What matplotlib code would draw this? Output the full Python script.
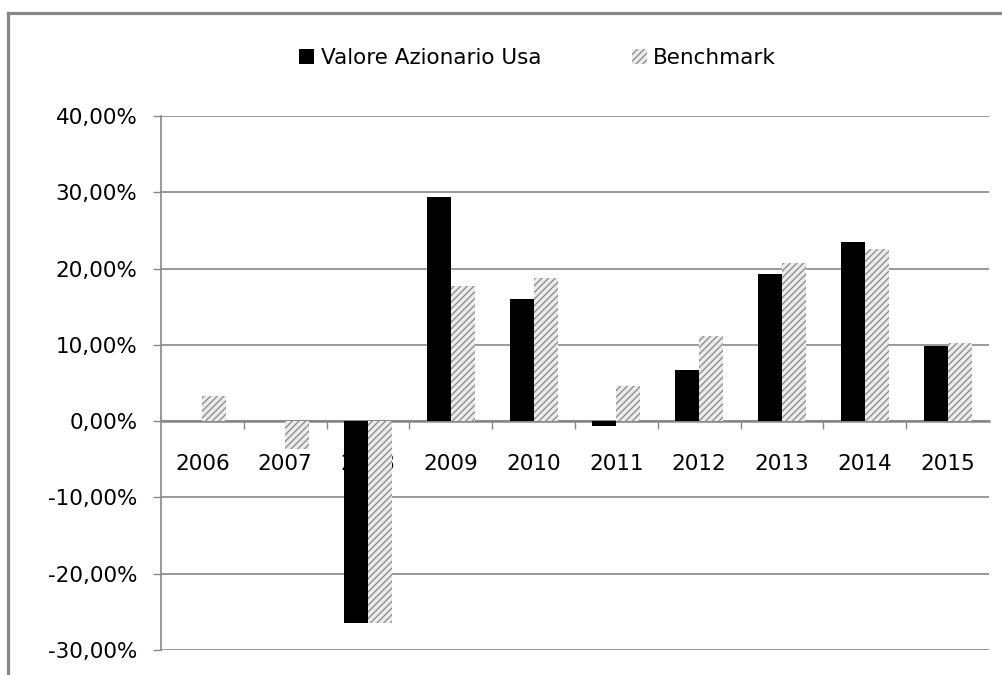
import matplotlib
matplotlib.use("Agg")
import matplotlib.pyplot as plt
from matplotlib.patches import Patch
from matplotlib.lines import Line2D
from matplotlib.ticker import FuncFormatter, FixedLocator
import numpy as np

plt.rcParams['font.family'] = ['DejaVu Sans']
plt.rcParams['hatch.linewidth'] = 1.0

# dati (rendimenti annui in %)
anni = ['2006', '2007', '2008', '2009', '2010', '2011', '2012', '2013', '2014', '2015']
valore_usa = [0.0, 0.0, -26.5, 29.4, 16.0, -0.7, 6.7, 19.3, 23.5, 9.8]
benchmark = [3.3, -3.7, -26.4, 17.7, 18.7, 4.6, 11.1, 20.7, 22.5, 10.3]
serie = ['Valore Azionario Usa', 'Benchmark']

grigio = '#878787'

fig = plt.figure(figsize=(10.03, 6.75), dpi=100)
ax = fig.add_axes([161 / 1003, 1 - 650 / 675, (989 - 161) / 1003, (650 - 116) / 675])

x = np.arange(len(anni))
w = 0.29
ax.bar(x - w / 2, valore_usa, w, color='black', linewidth=0, zorder=3)
ax.bar(x + w / 2, benchmark, w, color='#ececec', edgecolor='#8f8f8f', linewidth=0,
       hatch='/////', zorder=3)

ax.set_xlim(-0.5, len(anni) - 0.5)
ax.set_ylim(-30, 40)
ax.set_yticks(np.arange(-30, 41, 10))
ax.yaxis.set_major_formatter(FuncFormatter(lambda v, p: f"{v:.2f}%".replace('.', ',')))
ax.yaxis.grid(True, color=grigio, linewidth=1.2)
ax.set_axisbelow(True)

ax.set_xticks(x)
ax.set_xticklabels(anni)
ax.xaxis.set_minor_locator(FixedLocator(np.arange(0.5, len(anni) - 0.5, 1)))
ax.tick_params(axis='x', which='major', length=0, pad=24, labelsize=15.5)
ax.tick_params(axis='x', which='minor', length=6, width=1, color=grigio, direction='out')
ax.tick_params(axis='y', length=6, width=1, color=grigio, pad=11, labelsize=15.5)

for s in ['top', 'right']:
    ax.spines[s].set_visible(False)
ax.spines['bottom'].set_position(('data', 0))
ax.spines['bottom'].set_color(grigio)
ax.spines['bottom'].set_linewidth(1.8)
ax.spines['left'].set_color(grigio)
ax.spines['left'].set_linewidth(1.2)

handles = [Patch(facecolor='black', linewidth=0),
           Patch(facecolor='#ececec', edgecolor='#8f8f8f', hatch='/////', linewidth=0)]
fig.legend(handles, serie, loc='center', bbox_to_anchor=(0.536, 0.914), ncol=2,
           frameon=False, fontsize=15.5, handlelength=0.7, handleheight=0.7,
           handletextpad=0.3, columnspacing=4.2)

# cornice esterna
fig.add_artist(Line2D([8 / 1003, 1], [1 - 13 / 675, 1 - 13 / 675], color=grigio, linewidth=2.3,
                      transform=fig.transFigure))
fig.add_artist(Line2D([8 / 1003, 8 / 1003], [0, 1 - 13 / 675], color=grigio, linewidth=2.3,
                      transform=fig.transFigure))

fig.savefig('out.png', dpi=100)
